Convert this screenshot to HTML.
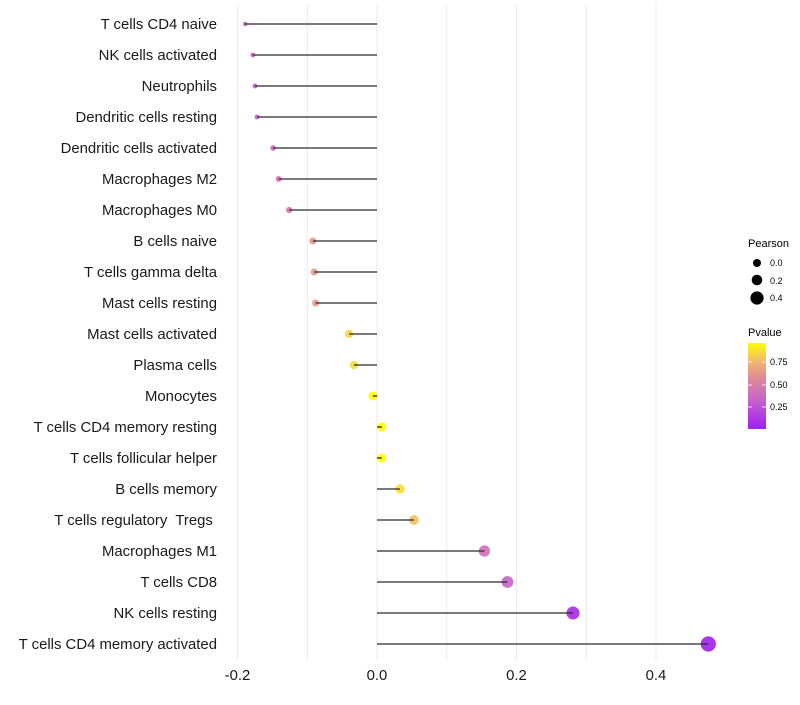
<!DOCTYPE html>
<html><head><meta charset="utf-8"><style>
body{margin:0;background:#fff;font-family:"Liberation Sans",sans-serif}
</style></head><body>
<svg id="chart" width="800" height="700" xmlns="http://www.w3.org/2000/svg" font-family="Liberation Sans, sans-serif">
<g id="grid"></g><g id="marks"></g><g id="ylabels"></g><g id="xlabels"></g>
<g>
<text x="748" y="247" font-size="11" fill="#000">Pearson</text>
<circle cx="757" cy="263" r="4" fill="#000"/><text x="770" y="266" font-size="9">0.0</text>
<circle cx="757" cy="280" r="5.3" fill="#000"/><text x="770" y="284" font-size="9">0.2</text>
<circle cx="757" cy="298" r="6.6" fill="#000"/><text x="770" y="301" font-size="9">0.4</text>
</g>
<g>
<text x="748" y="336" font-size="11" fill="#000">Pvalue</text>
<defs><linearGradient id="pg" x1="0" y1="1" x2="0" y2="0">
<stop offset="0" stop-color="#a020f0"/><stop offset="0.35" stop-color="#c864c8"/><stop offset="0.6" stop-color="#e08c96"/><stop offset="0.8" stop-color="#f2bc6c"/><stop offset="1" stop-color="#ffff00"/></linearGradient></defs>
<rect x="748" y="343" width="18" height="86" fill="url(#pg)"/>
<g stroke="#fff" stroke-width="0.8"><line x1="748" y1="362" x2="752" y2="362"/><line x1="762" y1="362" x2="766" y2="362"/><line x1="748" y1="385" x2="752" y2="385"/><line x1="762" y1="385" x2="766" y2="385"/><line x1="748" y1="407" x2="752" y2="407"/><line x1="762" y1="407" x2="766" y2="407"/></g>
<text x="770" y="365" font-size="9">0.75</text><text x="770" y="388" font-size="9">0.50</text><text x="770" y="410" font-size="9">0.25</text>
</g>
</svg>
<script>
const categories=["T cells CD4 naive","NK cells activated","Neutrophils","Dendritic cells resting","Dendritic cells activated","Macrophages M2","Macrophages M0","B cells naive","T cells gamma delta","Mast cells resting","Mast cells activated","Plasma cells","Monocytes","T cells CD4 memory resting","T cells follicular helper","B cells memory","T cells regulatory  Tregs ","Macrophages M1","T cells CD8","NK cells resting","T cells CD4 memory activated"];
const pearson=[-0.189,-0.178,-0.175,-0.172,-0.149,-0.141,-0.126,-0.092,-0.090,-0.088,-0.040,-0.033,-0.006,0.007,0.007,0.033,0.053,0.154,0.187,0.281,0.475];
const pvalue=[0.30,0.33,0.34,0.35,0.42,0.45,0.50,0.64,0.65,0.66,0.85,0.87,0.98,0.97,0.97,0.88,0.80,0.42,0.35,0.08,0.02];
const xTicks=[-0.2,0.0,0.2,0.4];
const xTickLabels=["-0.2","0.0","0.2","0.4"];
const gridVals=[-0.2,-0.1,0,0.1,0.2,0.3,0.4];
const NS="http://www.w3.org/2000/svg";
const x=v=>377+v*697.5;
const y=i=>24+i*31;
const rad=v=>Math.sqrt(Math.max(20+80*v,1));
const stops=[[0,[160,32,240]],[0.35,[200,100,200]],[0.6,[224,140,150]],[0.8,[242,188,108]],[1,[255,255,0]]];
function col(p){const t=Math.min(1,Math.max(0,(p-0.03)/0.94));for(let k=1;k<stops.length;k++){if(t<=stops[k][0]){const a=stops[k-1],b=stops[k],f=(t-a[0])/(b[0]-a[0]);return "rgb("+a[1].map((c,j)=>Math.round(c+(b[1][j]-c)*f)).join(",")+")";}}return "rgb(255,255,0)";}
function mk(tag,at,parent){const e=document.createElementNS(NS,tag);for(const k in at)e.setAttribute(k,at[k]);document.getElementById(parent).appendChild(e);return e;}
gridVals.forEach(v=>{const l=mk("line",{x1:x(v),x2:x(v),y1:5,y2:660,stroke:"#ebebeb","stroke-width":1},"grid");

});
categories.forEach((c,i)=>{
const d=mk("circle",{cx:x(pearson[i]),cy:y(i),r:rad(pearson[i]),fill:col(pvalue[i]),"fill-opacity":0.9},"marks");


const s=mk("line",{x1:x(0),x2:x(pearson[i]),y1:y(i),y2:y(i),stroke:"#2a2a2a","stroke-width":1.3},"marks");


const t=mk("text",{x:217,y:y(i)+5,"text-anchor":"end","font-size":14.9,fill:"#1a1a1a",style:"white-space:pre"},"ylabels");
t.textContent=c;


});
xTicks.forEach((v,i)=>{const t=mk("text",{x:x(v),y:680,"text-anchor":"middle","font-size":14.9,fill:"#1a1a1a"},"xlabels");
t.textContent=xTickLabels[i];

});
</script>
</body></html>
